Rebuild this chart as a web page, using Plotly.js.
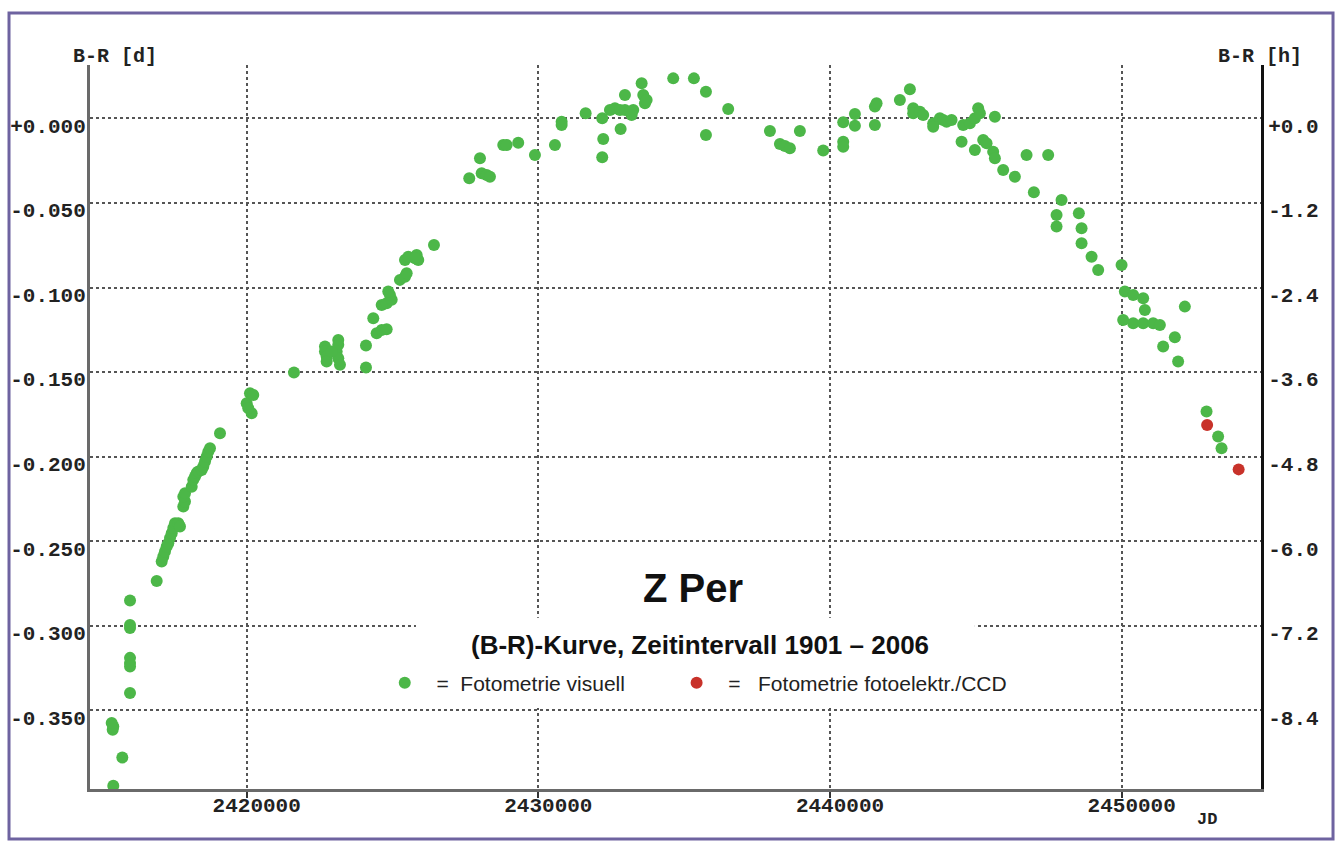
<!DOCTYPE html>
<html>
<head>
<meta charset="utf-8">
<script src="https://cdn.plot.ly/plotly-3.0.1.min.js"></script>
<style>
  html, body { margin: 0; padding: 0; background: #ffffff; }
  #chart { width: 1338px; height: 841px; }
</style>
</head>
<body>
<div id="chart"></div>
<script>
// ---------- data (Julian Date, B-R in days) ----------
const jdVisual = [
  2415427, 2415736, 2415406, 2415427, 2415372, 2416000, 2416000, 2416000, 2416000, 2416000,
  2416000, 2416000, 2416915, 2417086, 2417141, 2417199, 2417258, 2417312, 2417371, 2417429,
  2417484, 2417542, 2417655, 2417713, 2417827, 2417885, 2417827, 2417885, 2418115, 2418169,
  2418228, 2418286, 2418341, 2418457, 2418512, 2418571, 2418629, 2418684, 2418742, 2419085,
  2420000, 2420113, 2420226, 2420171, 2420055,
  2421621, 2422684, 2422684, 2422742, 2422742, 2423140, 2423140, 2423085, 2423140, 2423198,
  2422914, 2424090, 2424090, 2424340, 2424456, 2424628, 2424799, 2424628, 2424799, 2424971,
  2424912, 2424854, 2425255, 2425427, 2425485, 2425427, 2425540, 2425828, 2425882, 2425769,
  2426421,
  2427631, 2427998, 2428056, 2428227, 2428340, 2428796, 2428913, 2429310, 2429883, 2430569,
  2430798, 2430798, 2431621, 2432190, 2432224, 2432190, 2432454, 2432625, 2432797, 2432968,
  2433140, 2433253, 2433198, 2432821, 2432968, 2433541, 2433596, 2433654, 2433712, 2434624,
  2435333, 2435745, 2435745, 2436509, 2437939, 2438282, 2438453, 2438624, 2438967, 2439766,
  2440452, 2440452, 2440452, 2440853, 2440853, 2441538, 2441596, 2441538,
  2442395, 2442738, 2442851, 2442851, 2443081, 2443194, 2443537, 2443537, 2443766, 2443880,
  2443996, 2444167, 2444510, 2444565, 2444795, 2444966, 2445079, 2445138, 2444966, 2445251,
  2445367, 2445652, 2445593, 2445652, 2445936, 2446337, 2446738, 2447479, 2446989, 2447938,
  2447767, 2447767, 2448531, 2448624, 2448624, 2448967, 2449193, 2449995, 2450108, 2450393,
  2450736, 2450794, 2452165, 2450050, 2450393, 2450736, 2451078, 2451308, 2451822, 2451421,
  2451935, 2452909, 2453306, 2453423
];
const brVisual = [
  -0.3945, -0.3778, -0.3614, -0.3594, -0.3574, -0.3397, -0.3220, -0.3189, -0.3240, -0.3013,
  -0.2994, -0.2850, -0.2734, -0.2620, -0.2590, -0.2561, -0.2531, -0.2511, -0.2481, -0.2452,
  -0.2422, -0.2393, -0.2393, -0.2413, -0.2295, -0.2265, -0.2236, -0.2216, -0.2177, -0.2137,
  -0.2117, -0.2097, -0.2088, -0.2078, -0.2058, -0.2029, -0.1999, -0.1970, -0.1950, -0.1861,
  -0.1684, -0.1625, -0.1635, -0.1743, -0.1713,
  -0.1503, -0.1349, -0.1379, -0.1408, -0.1438, -0.1310, -0.1339, -0.1379, -0.1418, -0.1457,
  -0.1379, -0.1473, -0.1343, -0.1182, -0.1270, -0.1251, -0.1247, -0.1103, -0.1093, -0.1073,
  -0.1044, -0.1024, -0.0955, -0.0936, -0.0916, -0.0837, -0.0818, -0.0808, -0.0837, -0.0827,
  -0.0749,
  -0.0354, -0.0236, -0.0325, -0.0335, -0.0345, -0.0158, -0.0158, -0.0144, -0.0217, -0.0158,
  -0.0020, -0.0040, 0.0030, 0.0000, -0.0122, -0.0230, 0.0049, 0.0059, 0.0049, 0.0049,
  0.0039, 0.0049, 0.0020, -0.0063, 0.0138, 0.0207, 0.0138, 0.0089, 0.0108, 0.0236,
  0.0236, 0.0157, -0.0099, 0.0055, -0.0075, -0.0152, -0.0164, -0.0177, -0.0075, -0.0191,
  -0.0024, -0.0138, -0.0168, 0.0025, -0.0044, 0.0069, 0.0089, -0.0040,
  0.0108, 0.0171, 0.0059, 0.0030, 0.0039, 0.0019, -0.0030, -0.0050, 0.0000, -0.0010,
  -0.0020, -0.0010, -0.0138, -0.0040, -0.0030, 0.0000, 0.0059, 0.0030, -0.0187, -0.0128,
  -0.0148, 0.0009, -0.0197, -0.0236, -0.0305, -0.0345, -0.0217, -0.0217, -0.0437, -0.0483,
  -0.0571, -0.0640, -0.0561, -0.0650, -0.0739, -0.0818, -0.0896, -0.0867, -0.1024, -0.1044,
  -0.1063, -0.1133, -0.1113, -0.1192, -0.1211, -0.1211, -0.1211, -0.1221, -0.1294, -0.1349,
  -0.1438, -0.1733, -0.1881, -0.1950
];
const jdCCD = [2452929, 2454009];
const brCCD = [-0.1812, -0.2075];

// ---------- axes / labels ----------
const xTickVals = [2420000, 2430000, 2440000, 2450000];
const xTickText = ["2420000", "2430000", "2440000", "2450000"];
const yTickVals = [0, -0.05, -0.10, -0.15, -0.20, -0.25, -0.30, -0.35];
const yTickText = ["+0.000", "-0.050", "-0.100", "-0.150", "-0.200", "-0.250", "-0.300", "-0.350"];
const hTickVals = [0, -1.2, -2.4, -3.6, -4.8, -6.0, -7.2, -8.4];
const hTickText = ["+0.0", "-1.2", "-2.4", "-3.6", "-4.8", "-6.0", "-7.2", "-8.4"];
const xRange = [2414628, 2454810];
const yRange = [-0.3964, 0.0315];
const hoursPerDay = 24;

const titleText = "Z Per";
const subtitleText = "(B-R)-Kurve, Zeitintervall 1901 \u2013 2006";
const NB = "\u00a0";
const nameVisual = NB + NB + "=" + NB + NB + "Fotometrie visuell" + NB.repeat(8);
const nameCCD = NB + NB + "=" + NB + NB + NB + "Fotometrie fotoelektr./CCD";

const GREEN = "#4cb748";
const RED = "#c8322a";
const MONO = "Liberation Mono, Courier New, monospace";
const SANS = "Liberation Sans, Arial, sans-serif";
const GRID = "#555555";

const traces = [
  {
    x: jdVisual, y: brVisual, type: "scatter", mode: "markers", name: nameVisual,
    marker: { color: GREEN, size: 12 }, hoverinfo: "x+y"
  },
  {
    x: jdCCD, y: brCCD, type: "scatter", mode: "markers", name: nameCCD,
    marker: { color: RED, size: 12 }, hoverinfo: "x+y"
  },
  { // empty trace that carries the right-hand hour axis
    x: [], y: [], type: "scatter", mode: "markers", yaxis: "y2",
    showlegend: false, hoverinfo: "skip"
  }
];

const layout = {
  width: 1338, height: 841,
  margin: { l: 90, r: 76, t: 65, b: 52 },
  paper_bgcolor: "#ffffff",
  plot_bgcolor: "#ffffff",
  showlegend: true,
  legend: {
    orientation: "h",
    x: 0.2515, xanchor: "left",
    y: 0.1464, yanchor: "middle",
    bgcolor: "rgba(0,0,0,0)",
    font: { family: SANS, size: 21, color: "#222222" },
    itemclick: false, itemdoubleclick: false
  },
  xaxis: {
    range: xRange,
    tickmode: "array", tickvals: xTickVals, ticktext: xTickText,
    showgrid: true, gridcolor: GRID, gridwidth: 2, griddash: "dot",
    zeroline: false,
    showline: true, linecolor: "#6a6a6a", linewidth: 3,
    ticks: "outside", ticklen: 6, tickwidth: 2, tickcolor: "#333333",
    ticklabelshift: 10, ticklabelstandoff: -11,
    tickfont: { family: MONO, size: 21, color: "#222222", weight: "bold" }
  },
  yaxis: {
    range: yRange,
    tickmode: "array", tickvals: yTickVals, ticktext: yTickText,
    showgrid: true, gridcolor: GRID, gridwidth: 2, griddash: "dot",
    zeroline: false,
    showline: true, linecolor: "#6a6a6a", linewidth: 3,
    ticks: "",
    ticklabelshift: 7, ticklabelstandoff: -3,
    tickfont: { family: MONO, size: 21, color: "#222222", weight: "bold" }
  },
  yaxis2: {
    overlaying: "y", side: "right", anchor: "x",
    range: [yRange[0] * hoursPerDay, yRange[1] * hoursPerDay],
    tickmode: "array", tickvals: hTickVals, ticktext: hTickText,
    showgrid: false, zeroline: false,
    showline: true, linecolor: "#111111", linewidth: 2,
    ticks: "",
    ticklabelshift: 7,
    tickfont: { family: MONO, size: 21, color: "#222222", weight: "bold" }
  },
  shapes: [
    { // white patch behind the caption block
      type: "rect", xref: "x", yref: "y", layer: "above",
      x0: 2425804, x1: 2444966, y0: -0.3485, y1: -0.2952,
      fillcolor: "#ffffff", line: { width: 0 }
    },
    { // right-hand axis line
      type: "line", xref: "paper", yref: "paper", layer: "above",
      x0: 1, x1: 1, y0: 0, y1: 1,
      line: { color: "#111111", width: 2 }
    },
    { // outer frame
      type: "rect", xref: "paper", yref: "paper", layer: "above",
      x0: -0.0691, x1: 1.0606, y0: -0.0691, y1: 1.0718,
      fillcolor: "rgba(0,0,0,0)", line: { color: "#6e63a0", width: 3 }
    }
  ],
  annotations: [
    { text: "B-R [d]", xref: "paper", yref: "paper", x: 0.0213, y: 1.0124,
      xanchor: "center", yanchor: "middle", showarrow: false,
      font: { family: MONO, size: 20, color: "#222222", weight: "bold" } },
    { text: "B-R [h]", xref: "paper", yref: "paper", x: 0.9983, y: 1.0124,
      xanchor: "center", yanchor: "middle", showarrow: false,
      font: { family: MONO, size: 20, color: "#222222", weight: "bold" } },
    { text: "JD", xref: "paper", yref: "paper", x: 0.953, y: -0.0428,
      xanchor: "center", yanchor: "middle", showarrow: false,
      font: { family: MONO, size: 17, color: "#222222", weight: "bold" } },
    { text: titleText, xref: "paper", yref: "paper", x: 0.5145, y: 0.2776,
      xanchor: "center", yanchor: "middle", showarrow: false,
      font: { family: SANS, size: 40, color: "#111111", weight: "bold" } },
    { text: subtitleText, xref: "paper", yref: "paper", x: 0.5205, y: 0.1989,
      xanchor: "center", yanchor: "middle", showarrow: false,
      font: { family: SANS, size: 26, color: "#111111", weight: "bold" } }
  ]
};

Plotly.newPlot("chart", traces, layout, { displayModeBar: false });
</script>
</body>
</html>
